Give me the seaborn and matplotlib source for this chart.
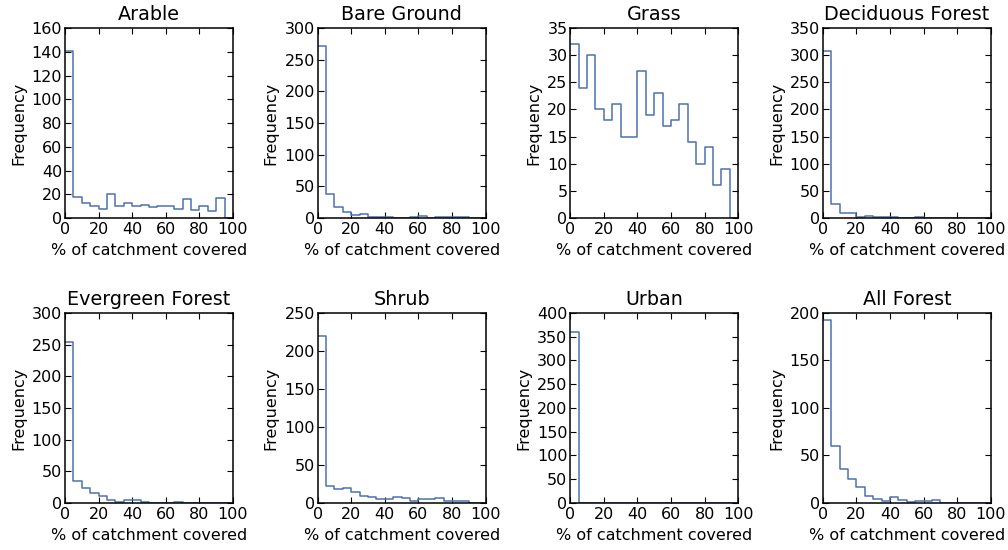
import numpy as np
import pandas as pd
import matplotlib
matplotlib.use("Agg")
import matplotlib.pyplot as plt
import seaborn as sns

# Histogram bin counts (bins of 5% from 0 to 100)
bin_edges = list(range(0, 105, 5))

categories = ["Arable", "Bare Ground", "Grass", "Deciduous Forest",
              "Evergreen Forest", "Shrub", "Urban", "All Forest"]

arable = [141, 18, 13, 10, 8, 20, 10, 13, 10, 11, 9, 10, 10, 8, 16, 7, 10, 6, 17, 0]
bare_ground = [271, 38, 18, 10, 5, 6, 1, 1, 1, 0, 0, 1, 3, 0, 1, 1, 1, 1, 0, 0]
grass = [32, 24, 30, 20, 18, 21, 15, 15, 27, 19, 23, 17, 18, 21, 14, 10, 13, 6, 9, 0]
deciduous = [307, 26, 10, 10, 2, 3, 1, 1, 1, 0, 0, 2, 0, 0, 0, 0, 0, 0, 0, 0]
evergreen = [254, 35, 24, 16, 11, 5, 2, 4, 4, 1, 0, 0, 0, 2, 0, 0, 0, 0, 0, 0]
shrub = [220, 22, 18, 20, 14, 9, 8, 5, 5, 8, 7, 2, 5, 5, 6, 3, 2, 2, 0, 0]
urban = [361, 0, 0, 0, 0, 0, 0, 0, 0, 0, 0, 0, 0, 0, 0, 0, 0, 0, 0, 0]
all_forest = [193, 60, 36, 25, 17, 7, 4, 2, 6, 3, 1, 2, 2, 3, 0, 0, 0, 0, 0, 0]

series = [arable, bare_ground, grass, deciduous, evergreen, shrub, urban, all_forest]
y_max = [160, 300, 35, 350, 300, 250, 400, 200]
y_step = [20, 50, 5, 50, 50, 50, 50, 50]

sns.set_style("ticks")
FS = 11.5
plt.rcParams.update({
    "font.family": ["DejaVu Sans"],
    "font.size": FS,
    "text.color": "black",
    "axes.labelcolor": "black",
    "xtick.labelcolor": "black",
    "ytick.labelcolor": "black",
    "xtick.direction": "in",
    "ytick.direction": "in",
    "xtick.top": True,
    "ytick.right": True,
    "xtick.major.size": 4,
    "ytick.major.size": 4,
    "xtick.major.pad": 3,
    "ytick.major.pad": 2,
    "axes.linewidth": 1.1,
    "axes.edgecolor": "black",
    "xtick.color": "black",
    "ytick.color": "black",
})

fig, axes = plt.subplots(2, 4, figsize=(10.08, 5.5), dpi=100)
fig.subplots_adjust(left=0.0645, right=0.983, top=0.949, bottom=0.0855,
                    wspace=0.504, hspace=0.5)

centers = [(bin_edges[i] + bin_edges[i + 1]) / 2 for i in range(len(bin_edges) - 1)]

for ax, name, counts, ym, ys in zip(axes.flat, categories, series, y_max, y_step):
    df = pd.DataFrame({"pct": centers, "count": counts})
    sns.histplot(data=df, x="pct", weights="count", bins=bin_edges,
                 element="step", fill=False, color="#4c72b0", linewidth=1.1,
                 zorder=1, ax=ax)
    ax.set_xlim(0, 100)
    ax.set_ylim(0, ym)
    ax.set_xticks(range(0, 101, 20))
    ax.set_yticks(np.arange(0, ym + ys / 2, ys))
    ax.set_title(name, fontsize=13.8, pad=6, color="black")
    ax.set_xlabel("% of catchment covered", fontsize=FS, labelpad=4)
    ax.set_ylabel("Frequency", fontsize=FS, labelpad=4)
    ax.tick_params(labelsize=FS)
    for s in ax.spines.values():
        s.set_visible(True)
        s.set_zorder(3)

fig.savefig("out.png", dpi=100)
